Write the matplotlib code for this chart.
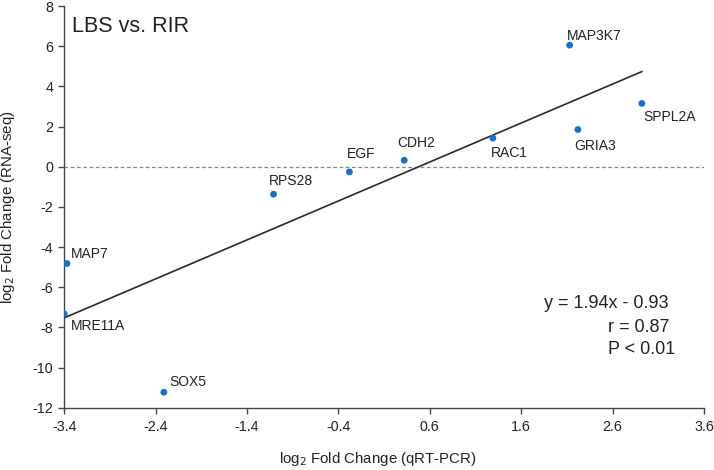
import matplotlib
matplotlib.use("Agg")
import matplotlib.pyplot as plt
import numpy as np

plt.rcParams['font.family'] = ['Liberation Sans', 'DejaVu Sans']

genes = ["MAP3K7", "SPPL2A", "GRIA3", "RAC1", "CDH2", "EGF", "RPS28", "MAP7", "MRE11A", "SOX5"]
qpcr = [2.13, 2.92, 2.22, 1.29, 0.32, -0.28, -1.11, -3.37, -3.40, -2.31]
rnaseq = [6.05, 3.15, 1.85, 1.42, 0.32, -0.26, -1.37, -4.82, -7.33, -11.23]
# label offsets in pixels (dx, dy), relative to point
label_offsets = [(-3, 9), (1, -14), (-4, -16), (-2, -15), (-7, 17), (-3, 18), (-5, 13), (4, 9), (7, -12), (5, 10)]

slope, intercept = 1.94, -0.93
xticks = [-3.4, -2.4, -1.4, -0.4, 0.6, 1.6, 2.6, 3.6]
yticks = [-12, -10, -8, -6, -4, -2, 0, 2, 4, 6, 8]

fig = plt.figure(figsize=(7.14, 4.70), dpi=100)
ax = fig.add_axes([0.090, 0.1326, 0.896, 0.8546])

ax.axhline(0, color='#888888', lw=0.9, ls=(0, (3, 2)), zorder=1)

xl = np.array([min(qpcr), max(qpcr)])
ax.plot(xl, slope * xl + intercept, color='#2a2a2a', lw=1.2, zorder=2)

ax.scatter(qpcr, rnaseq, s=24, color='#1a6fc6', zorder=3, edgecolors='none')

for g, x, y, (dx, dy) in zip(genes, qpcr, rnaseq, label_offsets):
    ax.annotate(g, (x, y), xytext=(dx, dy), textcoords='offset pixels',
                ha='left', va='center', fontsize=10, color='#222222')

ax.set_xlim(-3.4, 3.6)
ax.set_ylim(-12, 8)
ax.set_xticks(xticks)
ax.set_xticklabels([f"{t:.1f}" for t in xticks])
ax.set_yticks(yticks)
ax.set_yticklabels([str(t) for t in yticks])

for s in ['top', 'right']:
    ax.spines[s].set_visible(False)
for s in ['left', 'bottom']:
    ax.spines[s].set_color('#444444')
    ax.spines[s].set_linewidth(1.0)
ax.tick_params(axis='both', direction='out', length=4, width=1.0, color='#444444',
               labelsize=10.3, labelcolor='#222222')
ax.tick_params(axis='x', pad=5)
ax.tick_params(axis='y', pad=4)

ax.set_xlabel(r"log$_2$ Fold Change (qRT-PCR)", fontsize=10.8, color='#222222')
ax.set_ylabel(r"log$_2$ Fold Change (RNA-seq)", fontsize=10.8, color='#222222')
ax.xaxis.set_label_coords(0.49, -0.105)
ax.yaxis.set_label_coords(-0.074, 0.5)

ax.text(0.012, 0.975, "LBS vs. RIR", transform=ax.transAxes, fontsize=15.5,
        ha='left', va='top', color='#222222')

ax.text(668/714, 1 - 303/470, "y = 1.94x - 0.93", transform=fig.transFigure,
        fontsize=13, ha='right', va='center', color='#222222')
ax.text(608/714, 1 - 328/470, "r = 0.87", transform=fig.transFigure,
        fontsize=13, ha='left', va='center', color='#222222')
ax.text(608/714, 1 - 350/470, "P < 0.01", transform=fig.transFigure,
        fontsize=13, ha='left', va='center', color='#222222')

fig.savefig("out.png", dpi=100)
